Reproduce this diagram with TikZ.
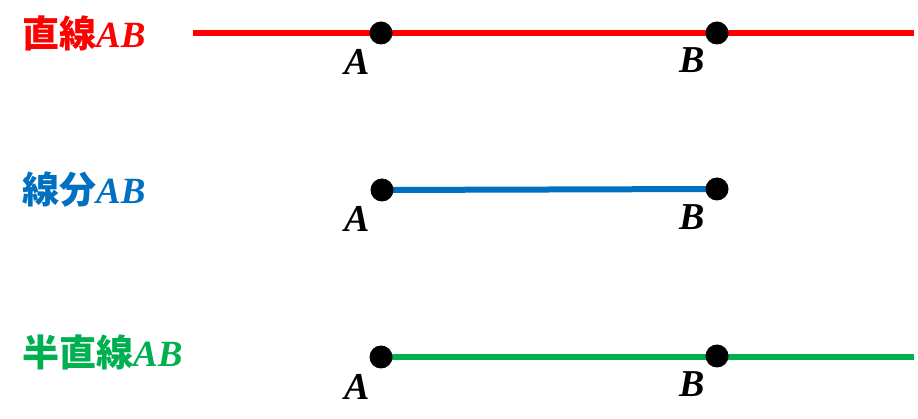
\documentclass[tikz,border=0pt]{standalone}
\usepackage{fontspec}
\newfontfamily\cjk{Noto Sans CJK JP}
\newfontfamily\latin{Liberation Serif}
\definecolor{lineRed}{HTML}{FF0000}
\definecolor{lineBlue}{HTML}{0070C0}
\definecolor{lineGreen}{HTML}{00B050}
\newcommand{\ptname}[1]{{\latin\bfseries\itshape #1}}
\tikzset{
  dot/.style={circle, fill=black, inner sep=0pt, minimum size=23pt},
  title/.style={anchor=west, inner sep=0pt, font=\fontsize{37}{40}\selectfont},
  ptlabel/.style={inner sep=0pt, font=\fontsize{38}{40}\selectfont},
  thickline/.style={line width=6pt}
}
\begin{document}
\begin{tikzpicture}[x=1pt, y=-1pt]
  \useasboundingbox (0,0) rectangle (918,419);

  % line AB
  \node[title, text=lineRed] (tLine) at (22,33) {\cjk\bfseries 直線\ptname{AB}};
  \coordinate (lL) at (193,33);
  \coordinate (lA) at (381,33);
  \coordinate (lB) at (717,33);
  \coordinate (lR) at (914,33);
  \draw[thickline, lineRed] (lL) -- (lR);
  \node[dot] (lAdot) at (lA) {};
  \node[dot] (lBdot) at (lB) {};
  \node[ptlabel] (lAlab) at (357,62) {\ptname{A}};
  \node[ptlabel] (lBlab) at (692,60) {\ptname{B}};

  % segment AB
  \node[title, text=lineBlue] (tSeg) at (22,190) {\cjk\bfseries 線分\ptname{AB}};
  \coordinate (sA) at (382,190);
  \coordinate (sB) at (717,189);
  \draw[thickline, lineBlue] (sA) -- (sB);
  \node[dot] (sAdot) at (sA) {};
  \node[dot] (sBdot) at (sB) {};
  \node[ptlabel] (sAlab) at (357,219) {\ptname{A}};
  \node[ptlabel] (sBlab) at (692,217) {\ptname{B}};

  % ray AB
  \node[title, text=lineGreen] (tRay) at (22,352) {\cjk\bfseries 半直線\ptname{AB}};
  \coordinate (rA) at (381,357);
  \coordinate (rB) at (717,356);
  \coordinate (rR) at (914,357);
  \draw[thickline, lineGreen] (rA) -- (rR);
  \node[dot] (rAdot) at (rA) {};
  \node[dot] (rBdot) at (rB) {};
  \node[ptlabel] (rAlab) at (357,387) {\ptname{A}};
  \node[ptlabel] (rBlab) at (692,384) {\ptname{B}};

\end{tikzpicture}
\end{document}
